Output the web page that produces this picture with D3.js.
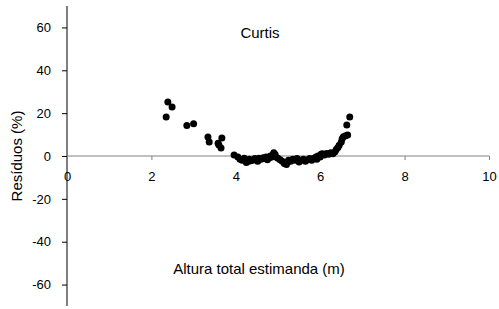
<!DOCTYPE html>
<html><head><meta charset="utf-8">
<script src="https://cdn.jsdelivr.net/npm/d3@7"></script>
<style>body{margin:0;background:#fff}svg{display:block}text{font-family:"Liberation Sans",Arial,sans-serif;fill:#000}</style>
</head><body>
<svg id="c" width="499" height="309"></svg>
<script>
const title = "Curtis";
const xTitle = "Altura total estimanda (m)";
const yTitle = "Resíduos (%)";
const xTicks = [0, 2, 4, 6, 8, 10];
const yTicks = [-60, -40, -20, 0, 20, 40, 60];
const xVals = [2.35,2.39,2.49,2.84,3.0,3.34,3.37,3.58,3.6,3.65,3.67,3.96,
 4.05,4.1,4.15,4.2,4.25,4.3,4.32,4.35,4.4,4.45,4.5,4.52,4.55,4.6,4.65,4.7,4.72,4.75,4.8,4.82,4.85,4.88,4.9,4.93,4.95,
 5.0,5.05,5.1,5.15,5.2,5.22,5.25,5.3,5.35,5.4,5.45,5.5,5.55,5.6,5.65,5.7,5.75,5.8,5.85,5.9,5.92,5.95,
 6.0,6.02,6.05,6.1,6.15,6.2,6.25,6.3,6.35,6.38,6.42,6.45,6.5,6.52,6.55,6.6,6.63,6.65,6.7];
const yVals = [18.2,25.2,22.9,14.2,15,8.9,6.5,6,5.1,3.7,8.4,0.5,
 -0.5,-1.5,-2,-1,-3,-2.5,-1.5,-2.2,-2,-1.2,-1.8,-2.5,-1,-1.5,-0.8,-1.2,-0.5,-1.8,-0.8,0,-0.5,0.5,1.5,0.8,-0.5,
 -1,-1.8,-2.5,-3.5,-4,-3,-2,-2.5,-1.5,-2,-1.2,-2.8,-2,-1.5,-2.5,-1.8,-1.2,-2,-1,-0.5,-1.5,0,
 -0.5,0.8,1,0.5,1.2,0.8,1.5,1,2,3,4,5,6.5,8,9,9.5,14.5,9.8,18.2];

const svg = d3.select("#c");
const x = d3.scaleLinear().domain([0,10]).range([67,489]);
const y = d3.scaleLinear().domain([-70,70]).range([306,6]);
const fmt = d => String(d);

// y axis
const yAx = svg.append("g").attr("transform","translate(67,0)")
  .call(d3.axisLeft(y).tickValues(yTicks).tickSize(5).tickPadding(11).tickFormat(fmt));
yAx.select(".domain").attr("d","M0,"+y(70)+"V"+y(-70)).attr("stroke","#000");
yAx.selectAll(".tick line").attr("stroke","#000");
yAx.selectAll("text").attr("font-size",13).attr("font-family","Liberation Sans, Arial, sans-serif").attr("fill","#000");

// x axis
const xAx = svg.append("g").attr("transform","translate(0,"+y(0)+")")
  .call(d3.axisBottom(x).tickValues(xTicks).tickSize(4).tickPadding(12).tickFormat(fmt));
xAx.select(".domain").attr("d","M"+x(0)+",0H"+x(10)).attr("stroke","#808080");
xAx.selectAll(".tick line").attr("stroke","#808080");
xAx.selectAll("text").attr("font-size",13).attr("font-family","Liberation Sans, Arial, sans-serif").attr("fill","#000");

// points
svg.append("g").selectAll("circle").data(xVals.map((v,i)=>[v,yVals[i]])).join("circle")
  .attr("cx",d=>x(d[0])).attr("cy",d=>y(d[1])).attr("r",3.5).attr("fill","#000");

svg.append("text").attr("x",260).attr("y",38).attr("text-anchor","middle").attr("font-size",15).text(title);
svg.append("text").attr("x",259).attr("y",274).attr("text-anchor","middle").attr("font-size",15).text(xTitle);
svg.append("text").attr("transform","translate(22,156) rotate(-90)").attr("text-anchor","middle").attr("font-size",15).text(yTitle);
</script>
</body></html>
